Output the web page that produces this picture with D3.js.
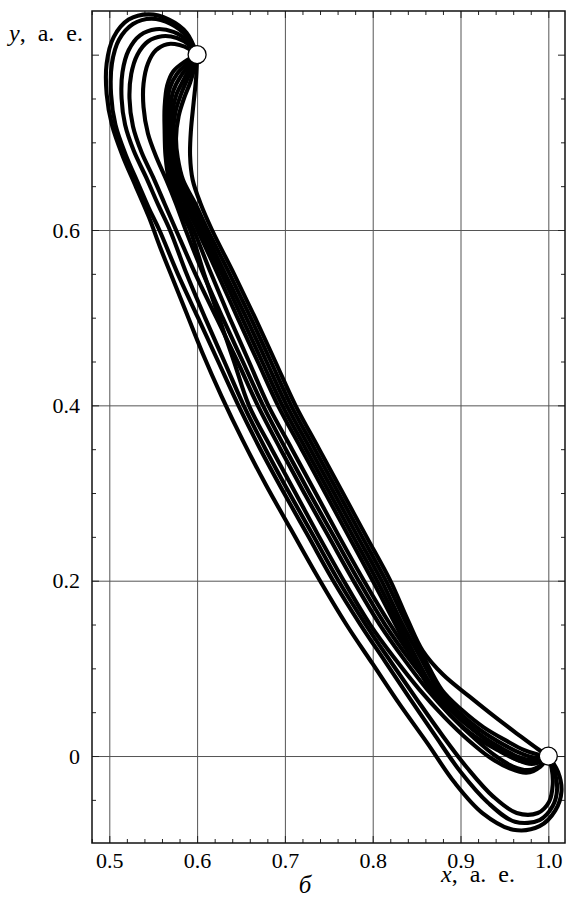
<!DOCTYPE html>
<html>
<head>
<meta charset="utf-8">
<script src="https://cdn.jsdelivr.net/npm/d3@7"></script>
<style>
  body { margin: 0; background: #fff; }
</style>
</head>
<body>
<div id="graph"></div>
<script>
// tick values and labels
var xMajor = [0.5, 0.6, 0.7, 0.8, 0.9, 1.0];
var xLabels = ["0.5", "0.6", "0.7", "0.8", "0.9", "1.0"];
var xMinor = [0.48, 0.52, 0.54, 0.56, 0.58, 0.62, 0.64, 0.66, 0.68, 0.72, 0.74, 0.76, 0.78,
              0.82, 0.84, 0.86, 0.88, 0.92, 0.94, 0.96, 0.98, 1.02];
var yMajor = [0, 0.2, 0.4, 0.6, 0.8];
var yLabels = ["0", "0.2", "0.4", "0.6", ""];
var yGrid = [0, 0.2, 0.4, 0.6];
var yMinor = [-0.05, 0.05, 0.1, 0.15, 0.25, 0.3, 0.35, 0.45, 0.5, 0.55, 0.65, 0.7, 0.75];

// the two end points (white circles)
var endPoints = [[0.6, 0.8], [1.0, 0.0]];

// trajectories that loop round the top-left first
var loop1 = [[0.600,0.800],[0.588,0.825],[0.568,0.840],[0.545,0.846],[0.522,0.840],[0.505,0.820],[0.497,0.790],[0.497,0.755],[0.503,0.720],[0.515,0.685],[0.530,0.650],[0.545,0.615],[0.558,0.580],[0.572,0.545],[0.588,0.505],[0.606,0.460],[0.628,0.410],[0.652,0.360],[0.678,0.310],[0.706,0.260],[0.737,0.205],[0.770,0.150],[0.800,0.105],[0.830,0.060],[0.862,0.015],[0.893,-0.030],[0.925,-0.065],[0.960,-0.084],[0.990,-0.080],[1.008,-0.062],[1.015,-0.040],[1.011,-0.018],[1.000,0.000]];
var loop2 = [[0.600,0.800],[0.589,0.820],[0.570,0.835],[0.548,0.841],[0.527,0.835],[0.511,0.817],[0.503,0.790],[0.502,0.755],[0.507,0.720],[0.519,0.685],[0.532,0.655],[0.545,0.625],[0.557,0.600],[0.578,0.550],[0.601,0.500],[0.624,0.450],[0.647,0.400],[0.672,0.350],[0.699,0.300],[0.727,0.250],[0.755,0.200],[0.786,0.150],[0.814,0.108],[0.842,0.066],[0.870,0.025],[0.900,-0.018],[0.931,-0.053],[0.962,-0.075],[0.990,-0.073],[1.005,-0.057],[1.010,-0.038],[1.007,-0.017],[1.000,0.000]];
var loop3 = [[0.600,0.800],[0.590,0.815],[0.573,0.826],[0.553,0.829],[0.535,0.822],[0.522,0.805],[0.515,0.780],[0.514,0.750],[0.518,0.720],[0.528,0.690],[0.542,0.660],[0.556,0.628],[0.569,0.600],[0.588,0.550],[0.609,0.500],[0.631,0.450],[0.653,0.400],[0.678,0.350],[0.705,0.300],[0.733,0.250],[0.761,0.200],[0.792,0.150],[0.821,0.107],[0.850,0.065],[0.879,0.024],[0.908,-0.014],[0.937,-0.046],[0.964,-0.065],[0.988,-0.065],[1.001,-0.052],[1.005,-0.033],[1.004,-0.015],[1.000,0.000]];
var loop4 = [[0.600,0.800],[0.591,0.811],[0.577,0.819],[0.560,0.821],[0.544,0.815],[0.532,0.800],[0.525,0.778],[0.523,0.750],[0.527,0.718],[0.537,0.688],[0.550,0.660],[0.563,0.630],[0.576,0.600],[0.598,0.550],[0.622,0.500],[0.646,0.450],[0.669,0.400],[0.695,0.350],[0.722,0.300],[0.750,0.250],[0.778,0.200],[0.808,0.150],[0.836,0.110],[0.862,0.076],[0.889,0.046],[0.916,0.020],[0.940,0.000],[0.960,-0.012],[0.977,-0.016],[0.992,-0.010],[1.000,0.000]];
var loop5 = [[0.600,0.800],[0.592,0.806],[0.580,0.811],[0.566,0.812],[0.553,0.805],[0.544,0.790],[0.539,0.767],[0.539,0.740],[0.544,0.710],[0.554,0.682],[0.565,0.657],[0.576,0.630],[0.587,0.600],[0.607,0.550],[0.629,0.500],[0.652,0.450],[0.675,0.400],[0.701,0.350],[0.728,0.300],[0.756,0.250],[0.784,0.200],[0.814,0.150],[0.842,0.110],[0.868,0.077],[0.894,0.049],[0.921,0.025],[0.946,0.008],[0.966,-0.003],[0.982,-0.006],[0.994,-0.003],[1.000,0.000]];

// trajectories leaving the top point straight downwards
var direct1 = [[0.600,0.800],[0.586,0.792],[0.573,0.781],[0.566,0.765],[0.563,0.740],[0.563,0.714],[0.564,0.685],[0.568,0.657],[0.578,0.630],[0.592,0.600],[0.608,0.550],[0.625,0.500],[0.642,0.450],[0.659,0.400],[0.685,0.350],[0.712,0.300],[0.739,0.250],[0.767,0.200],[0.797,0.150],[0.826,0.110],[0.853,0.076],[0.881,0.045],[0.909,0.018],[0.934,-0.002],[0.956,-0.014],[0.975,-0.019],[0.991,-0.012],[1.000,0.000]];
var direct2 = [[0.600,0.800],[0.589,0.790],[0.577,0.778],[0.569,0.762],[0.566,0.740],[0.566,0.714],[0.567,0.685],[0.571,0.657],[0.582,0.630],[0.596,0.600],[0.616,0.550],[0.637,0.500],[0.659,0.450],[0.681,0.400],[0.708,0.350],[0.735,0.300],[0.762,0.250],[0.790,0.200],[0.820,0.150],[0.845,0.112],[0.869,0.078],[0.894,0.050],[0.920,0.026],[0.945,0.008],[0.964,-0.004],[0.981,-0.009],[0.994,-0.005],[1.000,0.000]];
var direct3 = [[0.600,0.800],[0.591,0.788],[0.581,0.775],[0.573,0.759],[0.569,0.738],[0.568,0.714],[0.569,0.685],[0.574,0.657],[0.586,0.630],[0.6005,0.600],[0.6235,0.550],[0.646,0.500],[0.669,0.450],[0.692,0.400],[0.719,0.350],[0.746,0.300],[0.773,0.250],[0.800,0.200],[0.826,0.150],[0.845,0.113],[0.866,0.075],[0.888,0.047],[0.914,0.024],[0.942,0.007],[0.964,-0.004],[0.982,-0.008],[0.995,-0.004],[1.000,0.000]];
var direct4 = [[0.600,0.800],[0.593,0.787],[0.585,0.772],[0.577,0.756],[0.572,0.736],[0.570,0.714],[0.572,0.685],[0.577,0.657],[0.590,0.630],[0.604,0.600],[0.628,0.550],[0.651,0.500],[0.674,0.450],[0.697,0.400],[0.724,0.350],[0.751,0.300],[0.778,0.250],[0.805,0.200],[0.830,0.150],[0.849,0.113],[0.870,0.075],[0.892,0.049],[0.918,0.027],[0.945,0.010],[0.966,-0.001],[0.983,-0.005],[0.995,-0.003],[1.000,0.000]];
var direct5 = [[0.600,0.800],[0.595,0.786],[0.588,0.770],[0.581,0.753],[0.575,0.733],[0.573,0.710],[0.575,0.685],[0.580,0.657],[0.594,0.630],[0.608,0.600],[0.632,0.550],[0.656,0.500],[0.679,0.450],[0.702,0.400],[0.729,0.350],[0.756,0.300],[0.783,0.250],[0.810,0.200],[0.834,0.150],[0.854,0.113],[0.875,0.075],[0.897,0.051],[0.922,0.030],[0.949,0.013],[0.969,0.003],[0.985,-0.002],[0.996,-0.001],[1.000,0.000]];
var direct6 = [[0.600,0.800],[0.597,0.785],[0.592,0.768],[0.585,0.750],[0.579,0.730],[0.576,0.705],[0.578,0.682],[0.584,0.657],[0.598,0.630],[0.612,0.600],[0.637,0.550],[0.661,0.500],[0.684,0.450],[0.707,0.400],[0.734,0.350],[0.761,0.300],[0.788,0.250],[0.815,0.200],[0.839,0.150],[0.858,0.113],[0.879,0.075],[0.901,0.053],[0.926,0.033],[0.953,0.017],[0.972,0.007],[0.987,0.002],[1.000,0.000]];
var vertical = [[0.600,0.800],[0.599,0.775],[0.596,0.745],[0.593,0.714],[0.592,0.685],[0.595,0.657],[0.604,0.630],[0.617,0.600],[0.642,0.550],[0.666,0.500],[0.689,0.450],[0.712,0.400],[0.739,0.350],[0.766,0.300],[0.793,0.250],[0.820,0.200],[0.840,0.155],[0.857,0.120],[0.880,0.093],[0.910,0.068],[0.940,0.044],[0.965,0.025],[0.988,0.008],[1.000,0.000]];

var trajectories = [loop1, loop2, loop3, loop4, loop5,
                    direct1, direct2, direct3, direct4, direct5, direct6, vertical];

// set the dimensions of the page and the plot box
var width = 566;
var height = 898;
var boxLeft = 92, boxRight = 565, boxTop = 11, boxBottom = 843;
var serif = "'Liberation Serif', 'Times New Roman', serif";

var x = d3.scaleLinear().domain([0.4803, 1.019]).range([boxLeft, boxRight]);
var y = d3.scaleLinear().domain([-0.0992, 0.8498]).range([boxBottom, boxTop]);

var svg = d3.select("#graph")
  .append("svg")
  .attr("width", width)
  .attr("height", height);

// grid lines
svg.append("g")
  .attr("transform", "translate(0," + boxBottom + ")")
  .call(d3.axisBottom(x).tickValues(xMajor).tickSize(-(boxBottom - boxTop)).tickFormat(""))
  .call(function(g) { g.select(".domain").remove(); })
  .selectAll("line").attr("stroke", "#555").attr("stroke-width", 1);

svg.append("g")
  .attr("transform", "translate(" + boxLeft + ",0)")
  .call(d3.axisLeft(y).tickValues(yGrid).tickSize(-(boxRight - boxLeft)).tickFormat(""))
  .call(function(g) { g.select(".domain").remove(); })
  .selectAll("line").attr("stroke", "#555").attr("stroke-width", 1);

// minor ticks, pointing inside on all four sides
function inner(axis, tr, vals, size) {
  svg.append("g")
    .attr("transform", tr)
    .call(axis.tickValues(vals).tickSizeInner(-size).tickSizeOuter(0).tickFormat(""))
    .call(function(g) { g.select(".domain").remove(); })
    .selectAll("line").attr("stroke", "#222").attr("stroke-width", 1);
}
inner(d3.axisBottom(x), "translate(0," + boxBottom + ")", xMinor, 4);
inner(d3.axisTop(x), "translate(0," + boxTop + ")", xMinor, 4);
inner(d3.axisLeft(y), "translate(" + boxLeft + ",0)", yMinor, 4);
inner(d3.axisRight(y), "translate(" + boxRight + ",0)", yMinor, 4);
inner(d3.axisTop(x), "translate(0," + boxTop + ")", xMajor, 7);
inner(d3.axisRight(y), "translate(" + boxRight + ",0)", yMajor, 7);

// labelled axes
var xAxis = svg.append("g")
  .attr("transform", "translate(0," + boxBottom + ")")
  .call(d3.axisBottom(x).tickValues(xMajor).tickSizeInner(-7).tickSizeOuter(0).tickPadding(9)
    .tickFormat(function(d, i) { return xLabels[i]; }));
xAxis.select(".domain").remove();
xAxis.selectAll("line").attr("stroke", "#222");
xAxis.selectAll("text").style("font-family", serif).style("font-size", "22px").attr("fill", "#000");

var yAxis = svg.append("g")
  .attr("transform", "translate(" + boxLeft + ",0)")
  .call(d3.axisLeft(y).tickValues(yMajor).tickSizeInner(-7).tickSizeOuter(0).tickPadding(12)
    .tickFormat(function(d, i) { return yLabels[i]; }));
yAxis.select(".domain").remove();
yAxis.selectAll("line").attr("stroke", "#222");
yAxis.selectAll("text").style("font-family", serif).style("font-size", "22px").attr("fill", "#000");

// the trajectories
var line = d3.line()
  .x(function(d) { return x(d[0]); })
  .y(function(d) { return y(d[1]); })
  .curve(d3.curveCatmullRom.alpha(0.5));

svg.append("g")
  .selectAll("path")
  .data(trajectories)
  .enter()
  .append("path")
  .attr("d", line)
  .attr("fill", "none")
  .attr("stroke", "#000")
  .attr("stroke-width", 4.1)
  .attr("stroke-linejoin", "round")
  .attr("stroke-linecap", "round");

// frame
svg.append("rect")
  .attr("x", boxLeft).attr("y", boxTop)
  .attr("width", boxRight - boxLeft).attr("height", boxBottom - boxTop)
  .attr("fill", "none").attr("stroke", "#111").attr("stroke-width", 1.5);

// end points
svg.selectAll("circle")
  .data(endPoints)
  .enter()
  .append("circle")
  .attr("cx", function(d) { return x(d[0]); })
  .attr("cy", function(d) { return y(d[1]); })
  .attr("r", 9)
  .attr("fill", "#fff")
  .attr("stroke", "#000")
  .attr("stroke-width", 1.3);

// axis titles
var yt = svg.append("text").attr("x", 9).attr("y", 41)
  .style("font-family", serif).style("font-size", "24px").style("word-spacing", "6px");
yt.append("tspan").attr("font-style", "italic").text("y");
yt.append("tspan").text(", а. е.");

var xt = svg.append("text").attr("x", 441).attr("y", 882)
  .style("font-family", serif).style("font-size", "24px").style("word-spacing", "6px");
xt.append("tspan").attr("font-style", "italic").text("x");
xt.append("tspan").text(", а. е.");

svg.append("text").attr("x", 305).attr("y", 893)
  .style("font-family", serif).style("font-size", "25px")
  .attr("font-style", "italic").attr("text-anchor", "middle").text("б");
</script>
</body>
</html>
